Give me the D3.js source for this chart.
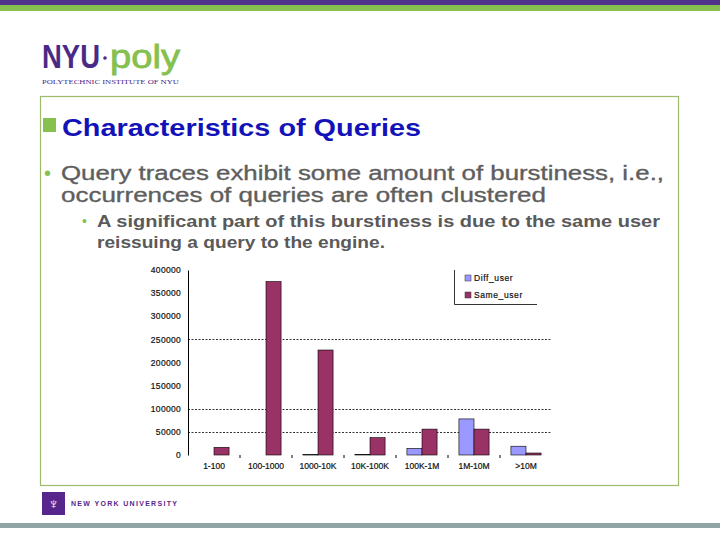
<!DOCTYPE html>
<html>
<head>
<meta charset="utf-8">
<script src="https://cdn.jsdelivr.net/npm/d3@7"></script>
<style>
html,body{margin:0;padding:0;background:#fff;}
svg{display:block;font-family:Arial,"Liberation Sans",sans-serif;}
</style>
</head>
<body>
<svg id="c" width="720" height="540"></svg>
<script>
const categories = ["1-100","100-1000","1000-10K","10K-100K","100K-1M","1M-10M",">10M"];
const seriesNames = ["Diff_user","Same_user"];
const diffUser = [0, 0, 1000, 1500, 14500, 78000, 19000];
const sameUser = [16500, 375000, 227000, 37500, 56000, 56000, 4300];
const yTicks = [0,50000,100000,150000,200000,250000,300000,350000,400000];
const gridValues = [50000,100000,250000];
const colors = ["#9999ff","#993366"];

const svg = d3.select("#c");

// slide decoration
svg.append("rect").attr("x",0).attr("y",0).attr("width",720).attr("height",5).attr("fill","#51338b");
svg.append("rect").attr("x",0).attr("y",5).attr("width",720).attr("height",6).attr("fill","#86c04f");
svg.append("rect").attr("x",0).attr("y",523).attr("width",720).attr("height",5).attr("fill","#8fa5a6");

// logo
svg.append("text").attr("x",42).attr("y",68).attr("font-size",33).attr("font-weight","bold").attr("fill","#4b2a87")
  .attr("textLength",58).attr("lengthAdjust","spacingAndGlyphs").text("NYU");
svg.append("circle").attr("cx",105).attr("cy",58).attr("r",1.8).attr("fill","#4b2a87");
svg.append("text").attr("x",110).attr("y",68).attr("font-size",33).attr("fill","#86c04f")
  .attr("stroke","#86c04f").attr("stroke-width",0.8)
  .attr("textLength",70).attr("lengthAdjust","spacingAndGlyphs").text("poly");
svg.append("text").attr("x",42).attr("y",84).attr("font-size",7).attr("fill","#4b2a87")
  .attr("font-family","'Liberation Serif',serif").attr("textLength",137).attr("lengthAdjust","spacingAndGlyphs")
  .text("POLYTECHNIC INSTITUTE OF NYU");

// content box
svg.append("rect").attr("x",40.5).attr("y",96.5).attr("width",638).attr("height",389)
  .attr("fill","none").attr("stroke","#9dbb6a").attr("stroke-width",1.2);

// footer logo
svg.append("rect").attr("x",42).attr("y",492).attr("width",23).attr("height",23).attr("fill","#57268d");
svg.append("text").attr("x",53.5).attr("y",509).attr("text-anchor","middle").attr("font-size",15).attr("fill","#fff").text("♆");
svg.append("text").attr("x",71).attr("y",506).attr("font-size",7).attr("font-weight","bold").attr("fill","#57268d")
  .attr("textLength",106).attr("lengthAdjust","spacing").text("NEW YORK UNIVERSITY");

// title
svg.append("rect").attr("x",43).attr("y",118).attr("width",13).attr("height",14).attr("fill","#86c04f");
svg.append("text").attr("x",62).attr("y",136).attr("font-size",24).attr("font-weight","bold").attr("fill","#1212b8")
  .attr("textLength",359).attr("lengthAdjust","spacingAndGlyphs").text("Characteristics of Queries");

// bullets
svg.append("text").attr("x",44).attr("y",180).attr("font-size",20).attr("fill","#86c04f").text("•");
svg.append("text").attr("x",61).attr("y",180).attr("font-size",20.5).attr("fill","#5e5e5e")
  .attr("stroke","#5e5e5e").attr("stroke-width",0.35)
  .attr("textLength",603).attr("lengthAdjust","spacingAndGlyphs").text("Query traces exhibit some amount of burstiness, i.e.,");
svg.append("text").attr("x",61).attr("y",202).attr("font-size",20.5).attr("fill","#5e5e5e")
  .attr("stroke","#5e5e5e").attr("stroke-width",0.35)
  .attr("textLength",485).attr("lengthAdjust","spacingAndGlyphs").text("occurrences of queries are often clustered");
svg.append("text").attr("x",82).attr("y",226).attr("font-size",14).attr("fill","#86c04f").text("•");
svg.append("text").attr("x",97).attr("y",227).attr("font-size",16.5).attr("font-weight","bold").attr("fill","#5a5a5a")
  .attr("textLength",563).attr("lengthAdjust","spacingAndGlyphs").text("A significant part of this burstiness is due to the same user");
svg.append("text").attr("x",97).attr("y",248).attr("font-size",16.5).attr("font-weight","bold").attr("fill","#5a5a5a")
  .attr("textLength",288).attr("lengthAdjust","spacingAndGlyphs").text("reissuing a query to the engine.");

// chart
const x = d3.scaleBand().domain(categories).range([188,552]).paddingInner(0.42).paddingOuter(0.21);
const xs = d3.scaleBand().domain(seriesNames).range([0,x.bandwidth()]);
const y = d3.scaleLinear().domain([0,400000]).range([455,270]);

const g = svg.append("g");
g.selectAll("line.grid").data(gridValues).join("line").attr("class","grid")
  .attr("x1",188).attr("x2",552).attr("y1",d=>Math.round(y(d))+0.5).attr("y2",d=>Math.round(y(d))+0.5)
  .attr("stroke","#000").attr("stroke-width",0.8).attr("stroke-dasharray","2,1.5");

const yAxis = d3.axisLeft(y).tickValues(yTicks).tickSize(0).tickPadding(7).tickFormat(d3.format("d"));
const ya = g.append("g").attr("transform","translate(188,0)").call(yAxis);
ya.select(".domain").attr("stroke","#000").attr("stroke-width",1);
ya.selectAll("text").attr("font-size",8.5).attr("font-family","Arial,sans-serif").attr("fill","#111")
  .attr("stroke","#111").attr("stroke-width",0.2).attr("letter-spacing",0.3);

const xAxis = d3.axisBottom(x).tickSize(0).tickPadding(8);
const xa = g.append("g").attr("transform","translate(0,455)").call(xAxis);
xa.select(".domain").remove();
xa.selectAll("text").attr("font-size",8.5).attr("font-family","Arial,sans-serif").attr("fill","#111")
  .attr("stroke","#111").attr("stroke-width",0.2);
// tick marks between categories
g.selectAll("line.tk").data(categories.slice(1)).join("line").attr("class","tk")
  .attr("x1",d=>x(d)-x.step()*x.paddingInner()/2).attr("x2",d=>x(d)-x.step()*x.paddingInner()/2)
  .attr("y1",455).attr("y2",458).attr("stroke","#000");

const data = categories.map((c,i)=>({cat:c, vals:[diffUser[i], sameUser[i]]}));
const grp = g.selectAll("g.cat").data(data).join("g").attr("class","cat").attr("transform",d=>`translate(${x(d.cat)},0)`);
grp.selectAll("rect").data(d=>d.vals.map((v,j)=>({v, s:seriesNames[j], j})).filter(e=>e.v>0)).join("rect")
  .attr("x",d=>xs(d.s)).attr("width",xs.bandwidth())
  .attr("y",d=>y(d.v)).attr("height",d=>Math.max(0.5, y(0)-y(d.v)))
  .attr("fill",d=>colors[d.j]).attr("stroke","#000").attr("stroke-width",0.6);

// legend
const lg = svg.append("g");
lg.append("path").attr("d","M454.5,270 V304.5 H537").attr("fill","none").attr("stroke","#000").attr("stroke-width",0.8);
seriesNames.forEach((n,i)=>{
  lg.append("rect").attr("x",465).attr("y",275+i*17).attr("width",6).attr("height",6).attr("fill",colors[i]).attr("stroke","#333").attr("stroke-width",0.5);
  lg.append("text").attr("x",474).attr("y",281+i*17).attr("font-size",8.5).attr("letter-spacing",0.6).attr("fill","#111")
    .attr("stroke","#111").attr("stroke-width",0.2).text(n);
});
</script>
</body>
</html>
